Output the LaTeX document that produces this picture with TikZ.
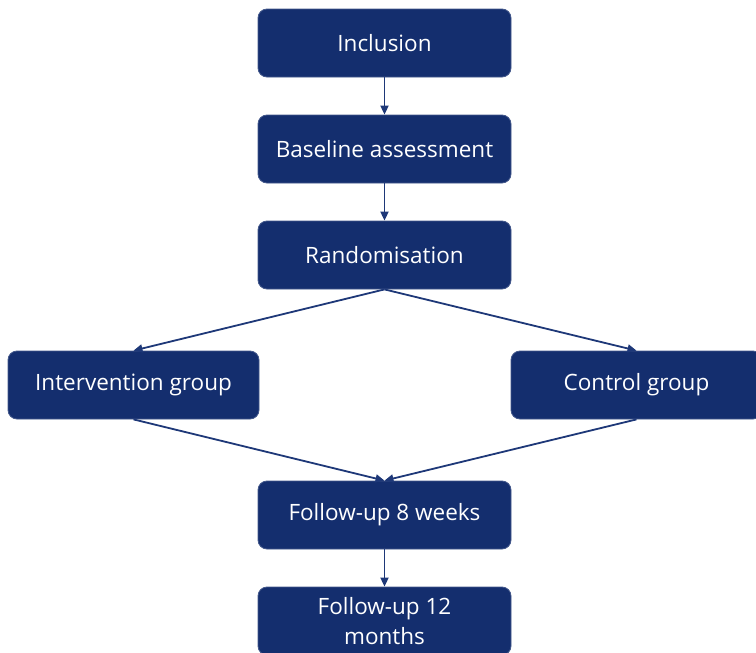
\documentclass[tikz,border=0pt]{standalone}
\usepackage{fontspec}
\setmainfont{Open Sans}
\usetikzlibrary{arrows.meta}
\definecolor{navy}{RGB}{20,46,110}
\definecolor{arrowc}{RGB}{30,56,120}
\begin{document}
\begin{tikzpicture}[x=1pt,y=-1pt,
  flowbox/.style={draw=navy!80!white,line width=0.8pt,fill=navy,rounded corners=9pt,text=white,
    minimum width=253pt,minimum height=68pt,inner sep=0pt,align=center,
    font=\fontsize{22.5}{30}\selectfont},
  conn/.style={draw=arrowc,line width=1.8pt,-{Triangle[length=9pt,width=8pt]}}]
\useasboundingbox (0,0) rectangle (756,653);
\node[flowbox] (incl) at (384.5,43) {Inclusion};
\node[flowbox] (base) at (384.5,149) {Baseline assessment};
\node[flowbox] (rand) at (384.5,255) {Randomisation};
\node[flowbox,minimum width=251pt] (inter) at (133.5,385) {Intervention group};
\node[flowbox,minimum width=251pt] (ctrl) at (636.5,385) {Control group};
\node[flowbox] (fu8) at (384.5,515) {Follow-up 8 weeks};
\node[flowbox] (fu12) at (384.5,621) {Follow-up 12\\months};
\draw[conn] (incl.south) -- (base.north);
\draw[conn] (base.south) -- (rand.north);
\draw[conn] (rand.south) -- (inter.north);
\draw[conn] (rand.south) -- (ctrl.north);
\draw[conn] (inter.south) -- (fu8.north);
\draw[conn] (ctrl.south) -- (fu8.north);
\draw[conn] (fu8.south) -- (fu12.north);
\end{tikzpicture}
\end{document}
